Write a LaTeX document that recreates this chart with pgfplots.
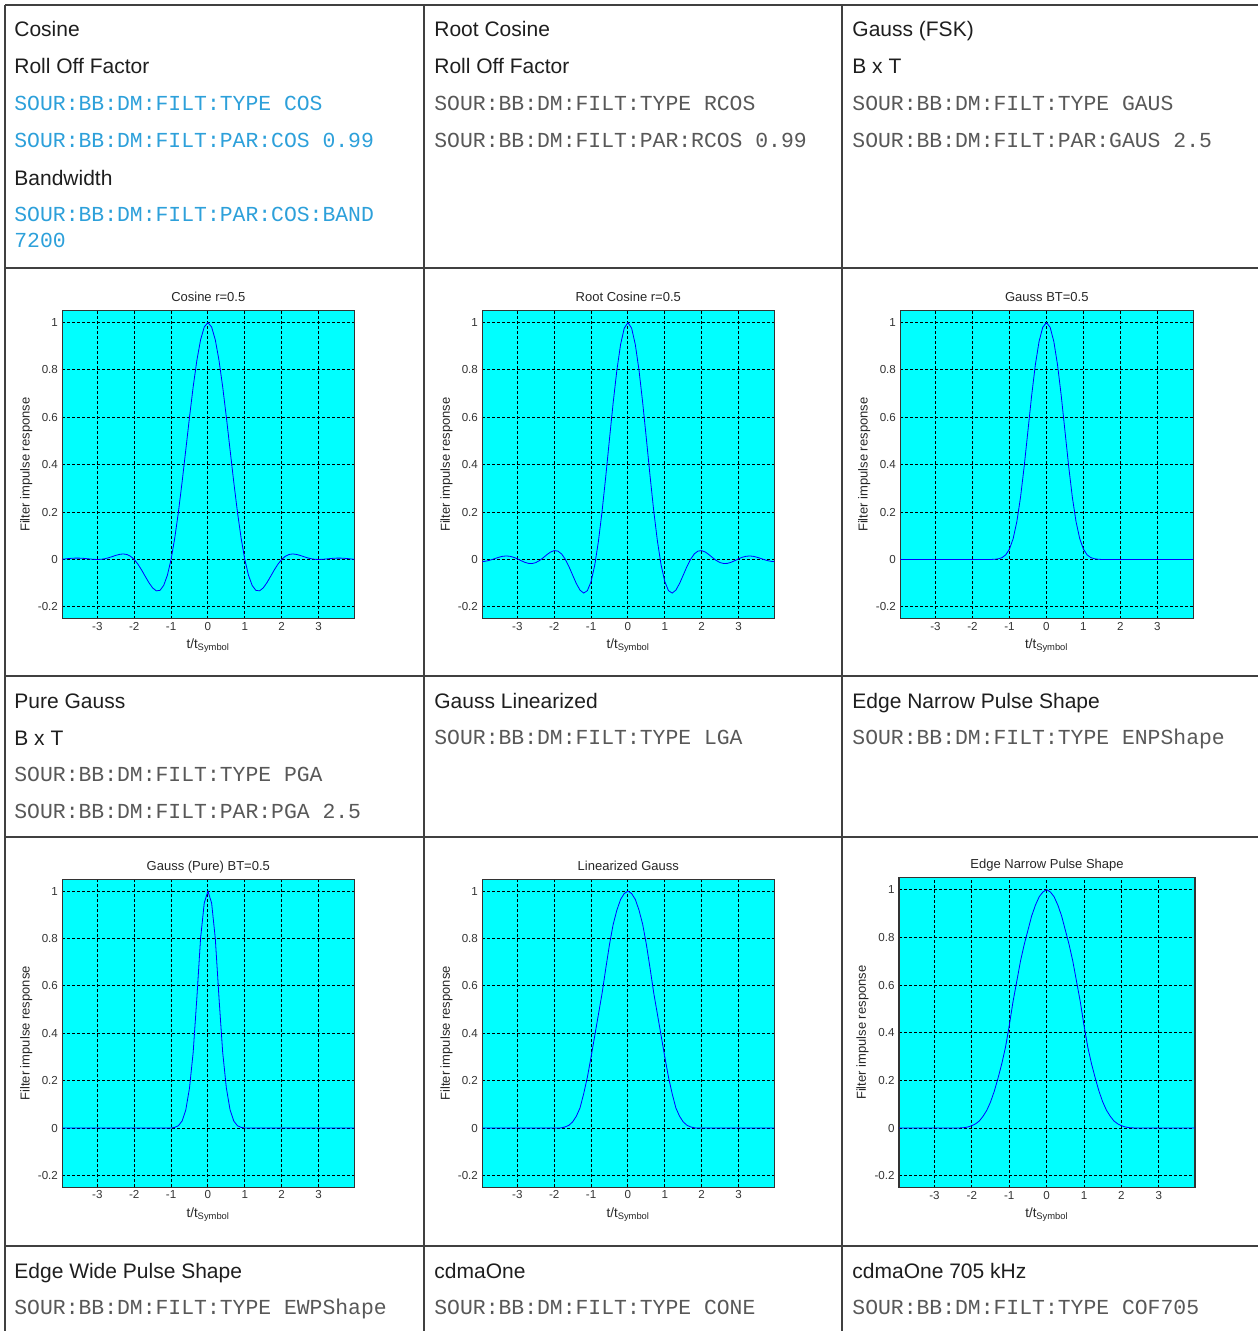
\documentclass[border=0pt]{standalone}
\usepackage{fontspec}
\setmainfont{Liberation Sans}
\setmonofont{Liberation Mono}
\usepackage{pgfplots}
\pgfplotsset{compat=1.18}
\definecolor{cmdblue}{RGB}{45,160,218}
\definecolor{cmdgray}{RGB}{88,88,88}
\definecolor{txt}{RGB}{30,30,30}
\definecolor{rulec}{RGB}{64,64,64}
\definecolor{bgcyan}{RGB}{0,255,255}
\definecolor{curve}{RGB}{0,0,255}
\pgfplotsset{
  filt/.style={
    scale only axis, width=146pt, height=154pt,
    xmin=-3.95, xmax=3.97, ymin=-0.25, ymax=1.05,
    xtick={-3,-2,-1,0,1,2,3}, ytick={-0.2,0,0.2,0.4,0.6,0.8,1},
    grid=major,
    grid style={black, line width=0.45pt, dash pattern=on 1.5pt off 1pt},
    major tick length=0pt,
    axis background/.style={fill=bgcyan},
    axis line style={black!80, line width=0.55pt},
    /pgf/number format/assume math mode=true,
    tick label style={font=\fontsize{5.8}{6}\selectfont, text=black!80},
    xticklabel style={inner sep=1.5pt},
    yticklabel style={inner sep=2pt},
    every axis title/.style={font=\fontsize{6.5}{7}\selectfont, text=black!85, at={(axis description cs:0.5,1)}, anchor=base, yshift=4.5pt},
    xlabel={t/t\textsubscript{Symbol}},
    ylabel={Filter impulse response},
    every axis x label/.style={font=\fontsize{6.7}{7}\selectfont, text=black!85, at={(axis description cs:0.5,0)}, anchor=base, yshift=-15pt},
    every axis y label/.style={font=\fontsize{6.5}{7}\selectfont, text=black!85, at={(axis description cs:-0.123,0.5)}, anchor=center, rotate=90},
    no markers,
    cycle list={{curve, line width=0.55pt, smooth}},
  }
}
\begin{document}
\begin{tikzpicture}[x=0.5pt,y=0.5pt,
  lab/.style={anchor=base west, inner sep=0pt, text=txt, font=\fontsize{10.5}{12}\selectfont},
  cmd/.style={anchor=base west, inner sep=0pt, text=cmdgray, font=\ttfamily\fontsize{10.7}{12}\selectfont},
  bcmd/.style={cmd, text=cmdblue}]
\path[use as bounding box] (0,0) rectangle (1258,-1331);
% table rules
\foreach \yy in {5,268,676,837,1246} \draw[rulec, line width=0.9pt] (5,-\yy) -- (1258,-\yy);
\foreach \xx in {5,424,842} \draw[rulec, line width=0.7pt] (\xx,-5) -- (\xx,-1331);
% row 1 text
\node[lab] at (14,-37) {Cosine};
\node[lab] at (14,-74) {Roll Off Factor};
\node[bcmd] at (14,-111) {SOUR:BB:DM:FILT:TYPE COS};
\node[bcmd] at (14,-148) {SOUR:BB:DM:FILT:PAR:COS 0.99};
\node[lab] at (14,-186) {Bandwidth};
\node[bcmd] at (14,-222) {SOUR:BB:DM:FILT:PAR:COS:BAND};
\node[bcmd] at (14,-248) {7200};
\node[lab] at (434,-37) {Root Cosine};
\node[lab] at (434,-74) {Roll Off Factor};
\node[cmd] at (434,-111) {SOUR:BB:DM:FILT:TYPE RCOS};
\node[cmd] at (434,-148) {SOUR:BB:DM:FILT:PAR:RCOS 0.99};
\node[lab] at (852,-37) {Gauss (FSK)};
\node[lab] at (852,-74) {B x T};
\node[cmd] at (852,-111) {SOUR:BB:DM:FILT:TYPE GAUS};
\node[cmd] at (852,-148) {SOUR:BB:DM:FILT:PAR:GAUS 2.5};
% row 3 text
\node[lab] at (14,-708) {Pure Gauss};
\node[lab] at (14,-745) {B x T};
\node[cmd] at (14,-781) {SOUR:BB:DM:FILT:TYPE PGA};
\node[cmd] at (14,-818) {SOUR:BB:DM:FILT:PAR:PGA 2.5};
\node[lab] at (434,-708) {Gauss Linearized};
\node[cmd] at (434,-744) {SOUR:BB:DM:FILT:TYPE LGA};
\node[lab] at (852,-708) {Edge Narrow Pulse Shape};
\node[cmd] at (852,-744) {SOUR:BB:DM:FILT:TYPE ENPShape};
% row 5 text
\node[lab] at (14,-1278) {Edge Wide Pulse Shape};
\node[cmd] at (14,-1314) {SOUR:BB:DM:FILT:TYPE EWPShape};
\node[lab] at (434,-1278) {cdmaOne};
\node[cmd] at (434,-1314) {SOUR:BB:DM:FILT:TYPE CONE};
\node[lab] at (852,-1278) {cdmaOne 705 kHz};
\node[cmd] at (852,-1314) {SOUR:BB:DM:FILT:TYPE COF705};

% Plot 1: Cosine
\begin{axis}[filt, at={(31.15pt,-155.35pt)}, anchor=north west, title={Cosine r=0.5}]
\addplot coordinates {(-4,0) (-3.9,0.0018) (-3.8,0.0035) (-3.7,0.0049) (-3.6,0.0057) (-3.5,0.0057) (-3.4,0.0050) (-3.3,0.0036) (-3.2,0.0020) (-3.1,0.0006) (-3,0) (-2.9,0.0007) (-2.8,0.0030) (-2.7,0.0069) (-2.6,0.0119) (-2.5,0.0172) (-2.4,0.0214) (-2.3,0.0233) (-2.2,0.0211) (-2.1,0.0136) (-2,0) (-1.9,-0.0196) (-1.8,-0.0441) (-1.7,-0.0714) (-1.6,-0.0981) (-1.5,-0.1200) (-1.4,-0.1324) (-1.3,-0.1303) (-1.2,-0.1095) (-1.1,-0.0666) (-1,0) (-0.9,0.0900) (-0.8,0.2008) (-0.7,0.3275) (-0.6,0.4634) (-0.5,0.6002) (-0.4,0.7289) (-0.3,0.8405) (-0.2,0.9268) (-0.1,0.9813) (0,1)
(0.1,0.9813) (0.2,0.9268) (0.3,0.8405) (0.4,0.7289) (0.5,0.6002) (0.6,0.4634) (0.7,0.3275) (0.8,0.2008) (0.9,0.0900) (1,0) (1.1,-0.0666) (1.2,-0.1095) (1.3,-0.1303) (1.4,-0.1324) (1.5,-0.1200) (1.6,-0.0981) (1.7,-0.0714) (1.8,-0.0441) (1.9,-0.0196) (2,0) (2.1,0.0136) (2.2,0.0211) (2.3,0.0233) (2.4,0.0214) (2.5,0.0172) (2.6,0.0119) (2.7,0.0069) (2.8,0.0030) (2.9,0.0007) (3,0) (3.1,0.0006) (3.2,0.0020) (3.3,0.0036) (3.4,0.0050) (3.5,0.0057) (3.6,0.0057) (3.7,0.0049) (3.8,0.0035) (3.9,0.0018) (4,0)};
\end{axis}

% Plot 2: Root Cosine
\begin{axis}[filt, at={(241.15pt,-155.35pt)}, anchor=north west, title={Root Cosine r=0.5}]
\addplot coordinates {(-4,-0.0089) (-3.9,-0.0082) (-3.8,-0.0054) (-3.7,-0.0010) (-3.6,0.0043) (-3.5,0.0094) (-3.4,0.0133) (-3.3,0.0148) (-3.2,0.0134) (-3.1,0.0092) (-3,0.0027) (-2.9,-0.0049) (-2.8,-0.0118) (-2.7,-0.0164) (-2.6,-0.0171) (-2.5,-0.0132) (-2.4,-0.0047) (-2.3,0.0071) (-2.2,0.0201) (-2.1,0.0313) (-2,0.0373) (-1.9,0.0354) (-1.8,0.0235) (-1.7,0.0012) (-1.6,-0.0299) (-1.5,-0.0660) (-1.4,-0.1015) (-1.3,-0.1294) (-1.2,-0.1418) (-1.1,-0.1317) (-1,-0.0934) (-0.9,-0.0237) (-0.8,0.0771) (-0.7,0.2049) (-0.6,0.3525) (-0.5,0.5091) (-0.4,0.6623) (-0.3,0.7991) (-0.2,0.9071) (-0.1,0.9762) (0,1)
(0.1,0.9762) (0.2,0.9071) (0.3,0.7991) (0.4,0.6623) (0.5,0.5091) (0.6,0.3525) (0.7,0.2049) (0.8,0.0771) (0.9,-0.0237) (1,-0.0934) (1.1,-0.1317) (1.2,-0.1418) (1.3,-0.1294) (1.4,-0.1015) (1.5,-0.0660) (1.6,-0.0299) (1.7,0.0012) (1.8,0.0235) (1.9,0.0354) (2,0.0373) (2.1,0.0313) (2.2,0.0201) (2.3,0.0071) (2.4,-0.0047) (2.5,-0.0132) (2.6,-0.0171) (2.7,-0.0164) (2.8,-0.0118) (2.9,-0.0049) (3,0.0027) (3.1,0.0092) (3.2,0.0134) (3.3,0.0148) (3.4,0.0133) (3.5,0.0094) (3.6,0.0043) (3.7,-0.0010) (3.8,-0.0054) (3.9,-0.0082) (4,-0.0089)};
\end{axis}

% Plot 3: Gauss
\begin{axis}[filt, at={(450.15pt,-155.35pt)}, anchor=north west, width=146.5pt, title={Gauss BT=0.5}]
\addplot coordinates {(-4,0) (-1.5,0) (-1.4,0.0009) (-1.3,0.0028) (-1.2,0.0078) (-1.1,0.0194) (-1,0.0436) (-0.9,0.0878) (-0.8,0.1597) (-0.7,0.2630) (-0.6,0.3947) (-0.5,0.5433) (-0.4,0.6914) (-0.3,0.8213) (-0.2,0.9197) (-0.1,0.9799) (0,1)
(0.1,0.9799) (0.2,0.9197) (0.3,0.8213) (0.4,0.6914) (0.5,0.5433) (0.6,0.3947) (0.7,0.2630) (0.8,0.1597) (0.9,0.0878) (1,0.0436) (1.1,0.0194) (1.2,0.0078) (1.3,0.0028) (1.4,0.0009) (1.5,0) (4,0)};
\end{axis}

% Plot 4: Pure Gauss
\begin{axis}[filt, at={(31.15pt,-439.65pt)}, anchor=north west, title={Gauss (Pure) BT=0.5}]
\addplot coordinates {(-4,0) (-1,0) (-0.9,0.003) (-0.8,0.010) (-0.7,0.030) (-0.6,0.077) (-0.5,0.169) (-0.4,0.32) (-0.3,0.55) (-0.2,0.80) (-0.1,0.95) (0,1)
(0.1,0.95) (0.2,0.80) (0.3,0.55) (0.4,0.32) (0.5,0.169) (0.6,0.077) (0.7,0.030) (0.8,0.010) (0.9,0.003) (1,0) (4,0)};
\end{axis}

% Plot 5: Linearized Gauss
\begin{axis}[filt, at={(241.15pt,-439.65pt)}, anchor=north west, title={Linearized Gauss}]
\addplot coordinates {(-4,0) (-1.9,0) (-1.8,0.001) (-1.7,0.005) (-1.6,0.012) (-1.5,0.026) (-1.4,0.05) (-1.3,0.085) (-1.2,0.145) (-1.1,0.215) (-1,0.30) (-0.9,0.39) (-0.8,0.48) (-0.7,0.57) (-0.6,0.675) (-0.5,0.775) (-0.4,0.86) (-0.3,0.92) (-0.2,0.965) (-0.1,0.99) (0,1)
(0.1,0.99) (0.2,0.965) (0.3,0.92) (0.4,0.86) (0.5,0.775) (0.6,0.675) (0.7,0.57) (0.8,0.48) (0.9,0.39) (1,0.30) (1.1,0.215) (1.2,0.145) (1.3,0.085) (1.4,0.05) (1.5,0.026) (1.6,0.012) (1.7,0.005) (1.8,0.001) (1.9,0) (4,0)};
\end{axis}

% Plot 6: Edge Narrow Pulse Shape
\begin{axis}[filt, at={(449.5pt,-438.85pt)}, anchor=north west, width=148pt, height=155pt, title={Edge Narrow Pulse Shape}]
\addplot coordinates {(-4,0) (-2.4,0) (-2.3,0.001) (-2.2,0.002) (-2.1,0.005) (-2,0.01) (-1.9,0.018) (-1.8,0.03) (-1.7,0.05) (-1.6,0.075) (-1.5,0.11) (-1.4,0.155) (-1.3,0.21) (-1.2,0.27) (-1.1,0.34) (-1,0.43) (-0.9,0.53) (-0.8,0.615) (-0.7,0.70) (-0.6,0.77) (-0.5,0.83) (-0.4,0.89) (-0.3,0.935) (-0.2,0.97) (-0.1,0.99) (0,1)
(0.1,0.99) (0.2,0.97) (0.3,0.935) (0.4,0.89) (0.5,0.83) (0.6,0.77) (0.7,0.70) (0.8,0.615) (0.9,0.53) (1,0.43) (1.1,0.34) (1.2,0.27) (1.3,0.21) (1.4,0.155) (1.5,0.11) (1.6,0.075) (1.7,0.05) (1.8,0.03) (1.9,0.018) (2,0.01) (2.1,0.005) (2.2,0.002) (2.3,0.001) (2.4,0) (4,0)};
\end{axis}
\end{tikzpicture}
\end{document}
